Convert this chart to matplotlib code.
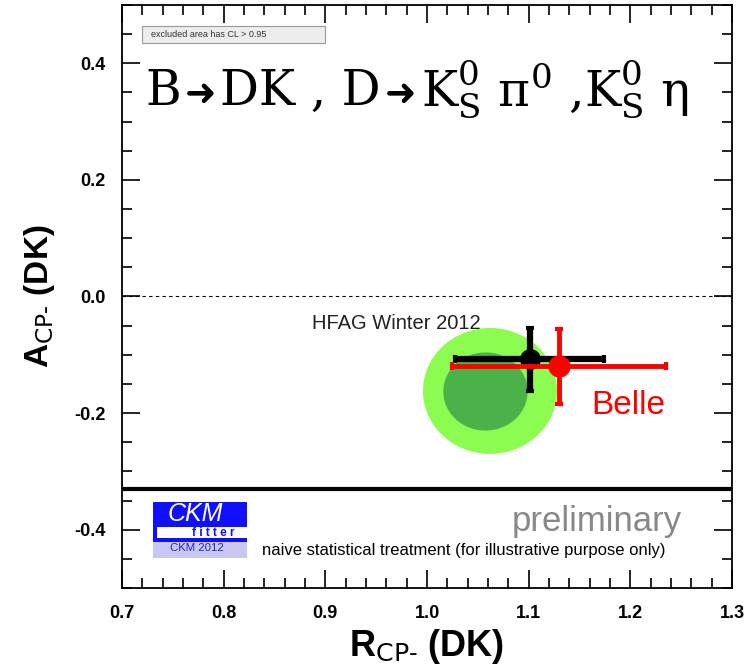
import matplotlib
matplotlib.use("Agg")
import matplotlib.pyplot as plt
from matplotlib.patches import Ellipse, Rectangle
from matplotlib.ticker import MultipleLocator
from matplotlib.offsetbox import TextArea, HPacker, AnnotationBbox

plt.rcParams['font.family'] = ['Liberation Sans', 'DejaVu Sans']
plt.rcParams['mathtext.fontset'] = 'dejavuserif'

# measurements (R_CP-, A_CP-)
hfag_r, hfag_r_err = 1.101, 0.073
hfag_a, hfag_a_err = -0.108, 0.054
belle_r, belle_r_err = 1.130, 0.105
belle_a, belle_a_err = -0.120, 0.064

# confidence regions: centre, full width, full height
cl95_center = (1.062, -0.162)
cl95_size = (0.132, 0.216)
cl68_center = (1.0575, -0.163)
cl68_size = (0.083, 0.134)

# physical boundary
a_limit = -0.331

x_ticks = [0.7, 0.8, 0.9, 1.0, 1.1, 1.2, 1.3]
y_ticks = [-0.4, -0.2, 0.0, 0.2, 0.4]

fig = plt.figure(figsize=(7.5, 6.72), dpi=100)
ax = fig.add_axes([0.1627, 0.125, 0.8133, 0.8676])

ax.add_patch(Ellipse(cl95_center, cl95_size[0], cl95_size[1], angle=0,
                     facecolor='#8cfc50', edgecolor='none', zorder=1))
ax.add_patch(Ellipse(cl68_center, cl68_size[0], cl68_size[1], angle=0,
                     facecolor='#4bb24a', edgecolor='none', zorder=2))

ax.axhline(0.0, color='black', lw=0.8, ls=(0, (3, 3)), zorder=1)
ax.axhline(a_limit, color='black', lw=3.0, zorder=3)

ax.errorbar(hfag_r, hfag_a, xerr=hfag_r_err, yerr=hfag_a_err, fmt='o',
            color='black', ms=14, elinewidth=4.5, capsize=3, capthick=3, zorder=4)
ax.errorbar(belle_r, belle_a, xerr=belle_r_err, yerr=belle_a_err, fmt='o',
            color='#ff0000', ms=15, elinewidth=3.5, capsize=3, capthick=3, zorder=5)

ax.text(0.887, -0.055, 'HFAG Winter 2012', fontsize=14.5, color='#222222')
ax.text(1.162, -0.201, 'Belle', fontsize=24, color='#ff0000')
ax.text(1.083, -0.402, 'preliminary', fontsize=25, color='#888888')
ax.text(0.8377, -0.443, 'naive statistical treatment (for illustrative purpose only)',
        fontsize=12, color='black')

# decay title, packed piece by piece so the heavy arrow can come from DejaVu Sans
serif = dict(fontsize=35, family='DejaVu Serif', color='black')
arrow = dict(fontsize=27, family='DejaVu Sans', color='black')
pieces = [
    TextArea('B', textprops=serif),
    TextArea('\u279c', textprops=arrow),
    TextArea('DK , D', textprops=serif),
    TextArea('\u279c', textprops=arrow),
    TextArea('K$^0_\\mathrm{S}$ \u03c0$^0$ ,K$^0_\\mathrm{S}$ \u03b7', textprops=serif),
]
title = HPacker(children=pieces, align='baseline', pad=0, sep=3)
ax.add_artist(AnnotationBbox(title, (0.7226, 0.303), xycoords='data',
                             box_alignment=(0, 0), frameon=False, pad=0))

# legend box
ax.add_patch(Rectangle((0.0330, 0.935), 0.30, 0.029, transform=ax.transAxes,
                       facecolor='#ededed', edgecolor='#999999', lw=0.8, zorder=6))
ax.text(0.048, 0.9495, 'excluded area has CL > 0.95', transform=ax.transAxes,
        fontsize=6.5, color='#333333', va='center', zorder=7)

# CKMfitter logo
ax.add_patch(Rectangle((0.0508, 0.0789), 0.1541, 0.0686, transform=ax.transAxes,
                       facecolor='#1010ff', edgecolor='none', zorder=6))
ax.add_patch(Rectangle((0.0568, 0.0863), 0.1481, 0.0178, transform=ax.transAxes,
                       facecolor='white', edgecolor='none', zorder=7))
ax.add_patch(Rectangle((0.0508, 0.0515), 0.1541, 0.0274, transform=ax.transAxes,
                       facecolor='#c8c8f0', edgecolor='none', zorder=6))
ax.text(0.121, 0.127, 'CKM', transform=ax.transAxes, fontsize=18, style='italic',
        color='white', ha='center', va='center', zorder=8)
ax.text(0.15, 0.0943, 'f i t t e r', transform=ax.transAxes, fontsize=8.5, weight='bold',
        color='#1010ff', ha='center', va='center', zorder=8)
ax.text(0.123, 0.0686, 'CKM 2012', transform=ax.transAxes, fontsize=8.2,
        color='#2020dd', ha='center', va='center', zorder=8)

ax.set_xlim(0.7, 1.3)
ax.set_ylim(-0.5, 0.5)
ax.set_xticks(x_ticks)
ax.set_yticks(y_ticks)
ax.set_xticklabels([f'{v:.1f}' for v in x_ticks], fontweight='bold', fontsize=13)
ax.set_yticklabels([f'{v:.1f}' for v in y_ticks], fontweight='bold', fontsize=13)
ax.xaxis.set_minor_locator(MultipleLocator(0.02))
ax.yaxis.set_minor_locator(MultipleLocator(0.05))
ax.tick_params(which='both', direction='in', top=True, right=True, width=1.2)
ax.tick_params(which='major', length=13, pad=12)
ax.tick_params(which='minor', length=7)
for s in ax.spines.values():
    s.set_linewidth(1.3)

ax.set_xlabel(r'R$_{\mathsf{CP}\text{-}}$ (DK)', fontsize=26, fontweight='bold')
ax.set_ylabel(r'A$_{\mathsf{CP}\text{-}}$ (DK)', fontsize=24, fontweight='bold', labelpad=12)

fig.savefig('out.png', dpi=100)
